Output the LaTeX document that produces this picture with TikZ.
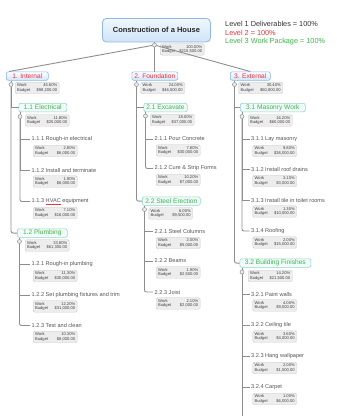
\documentclass[tikz,border=0pt]{standalone}
\usepackage{fontspec}
\setmainfont{Liberation Sans}
\definecolor{linegray}{HTML}{8E8E8E}
\definecolor{lvonefill}{HTML}{CFE4F8}
\definecolor{lvoneborder}{HTML}{8DB8E8}
\definecolor{lvred}{HTML}{E8323C}
\definecolor{lvgreen}{HTML}{3DB54A}
\definecolor{lvtwoborder}{HTML}{8ED8D0}
\definecolor{lvtwofill}{HTML}{F2FBF9}
\definecolor{infofill}{HTML}{EDEDED}
\definecolor{infoborder}{HTML}{CCCCCC}
\definecolor{txtgray}{HTML}{555555}
\definecolor{legblack}{HTML}{333333}
\newcommand{\wb}[2]{\hbox to 40pt{Work\hfil #1}\\\hbox to 40pt{Budget\hfil #2}}
\newcommand{\wbsitem}[6]{%
  \node[itemtxt] (#1) at (#2,#3) {#4};
  \node[info] (#1i) at ([xshift=3pt,yshift=-5.5pt]#1.west) {\wb{#5}{#6}};}
\begin{document}
\begin{tikzpicture}[x=1pt,y=-1pt,
  titlebox/.style={draw=lvoneborder, line width=0.8pt, rounded corners=4pt,
    top color=white!70!lvonefill, bottom color=lvonefill,
    minimum width=108pt, minimum height=23.5pt, inner sep=0pt,
    font=\fontsize{7.5}{8}\selectfont\bfseries, text=black!85, anchor=north west},
  lvone/.style={draw=lvoneborder, line width=0.6pt, rounded corners=2pt,
    top color=white, bottom color=lvonefill, text=lvred,
    font=\fontsize{6.6}{7}\selectfont, minimum height=8.5pt, inner sep=0pt,
    anchor=north west},
  lvtwo/.style={draw=lvtwoborder, line width=0.6pt, rounded corners=2pt,
    fill=lvtwofill, text=lvgreen,
    font=\fontsize{6.6}{7}\selectfont, minimum height=8.5pt, inner sep=0pt,
    anchor=north west},
  itemtxt/.style={font=\fontsize{5.6}{6}\selectfont, text=txtgray,
    inner xsep=1.5pt, inner ysep=0pt, anchor=west},
  info/.style={draw=infoborder, fill=infofill, rounded corners=1.5pt,
    line width=0.4pt, minimum height=11.5pt,
    inner xsep=2pt, inner ysep=0.8pt, font=\fontsize{4.1}{4.7}\selectfont,
    align=left, anchor=north west, text=black!75},
  dot/.style={circle, draw=linegray, fill=lvonefill!60!white, line width=0.5pt,
    minimum size=4pt, inner sep=0pt},
  conn/.style={draw=linegray, line width=0.9pt},
  legend/.style={font=\fontsize{7.3}{8}\selectfont, anchor=west, inner sep=0pt}]
\useasboundingbox[fill=white] (0,0) rectangle (337,416);

% root
\node[titlebox] (root) at (102,18) {Construction of a House};
\node[dot] (rootdot) at (154.5,45) {};
\node[info] (rooti) at (160,43.5) {\wb{100.00\%}{\$215,500.00}};
\node[legend, text=legblack] (leg1) at (225,23.5) {Level 1 Deliverables = 100\%};
\node[legend, text=lvred] (leg2) at (225,32.5) {Level 2 = 100\%};
\node[legend, text=lvgreen] (leg3) at (225,41.5) {Level 3 Work Package = 100\%};

% level 1
\node[lvone, minimum width=42pt] (int) at (6,71.5) {1. Internal};
\node[lvone, minimum width=46pt] (fnd) at (131.5,71.5) {2. Foundation};
\node[lvone, minimum width=40pt] (ext) at (230,71.5) {3. External};
\node[dot] (intdot) at (11,84.5) {};
\node[dot] (fnddot) at (136.5,84.5) {};
\node[dot] (extdot) at (234.5,84.5) {};
\node[info] (inti) at (15,82) {\wb{45.60\%}{\$98,200.00}};
\node[info] (fndi) at (140.5,82) {\wb{24.00\%}{\$46,500.00}};
\node[info] (exti) at (238.5,82) {\wb{30.40\%}{\$60,800.00}};

% level 2
\node[lvtwo, minimum width=48pt] (elec) at (18.5,103) {1.1 Electrical};
\node[lvtwo, minimum width=50pt] (plmb) at (17,228.5) {1.2 Plumbing};
\node[lvtwo, minimum width=43.5pt] (exc) at (143.5,103) {2.1 Excavate};
\node[lvtwo, minimum width=58pt] (stl) at (142,196.5) {2.2 Steel Erection};
\node[lvtwo, minimum width=65pt] (mas) at (240,103) {3.1 Masonry Work};
\node[lvtwo, minimum width=71pt] (bld) at (239.5,258.5) {3.2 Building Finishes};
\node[dot] (elecdot) at (20,116.5) {};
\node[dot] (plmbdot) at (19.5,241.5) {};
\node[dot] (excdot) at (145.5,116) {};
\node[dot] (stldot) at (144.5,209.5) {};
\node[dot] (masdot) at (242,116.5) {};
\node[dot] (blddot) at (242,272) {};
\node[info] (eleci) at (25,114.5) {\wb{11.80\%}{\$25,000.00}};
\node[info] (plmbi) at (25,239.5) {\wb{33.80\%}{\$61,300.00}};
\node[info] (exci) at (150,114) {\wb{18.00\%}{\$37,000.00}};
\node[info] (stli) at (148.5,207.5) {\wb{6.00\%}{\$9,500.00}};
\node[info] (masi) at (248,114.5) {\wb{16.20\%}{\$60,000.00}};
\node[info] (bldi) at (248,270) {\wb{14.20\%}{\$21,500.00}};

% level 3
\wbsitem{e1}{30}{139.5}{1.1.1 Rough-in electrical}{2.80\%}{\$6,000.00}
\wbsitem{e2}{30}{170}{1.1.2 Install and terminate}{1.90\%}{\$6,000.00}
\wbsitem{e3}{30}{201.5}{1.1.3 {\color{lvred}\underline{\textcolor{txtgray}{HVAC}}} equipment}{7.10\%}{\$16,000.00}
\wbsitem{p1}{30}{264.5}{1.2.1 Rough-in plumbing}{11.30\%}{\$30,000.00}
\wbsitem{p2}{30}{295}{1.2.2 Set plumbing fixtures and trim}{12.20\%}{\$31,000.00}
\wbsitem{p3}{30}{325.5}{1.2.3 Test and clean}{10.30\%}{\$8,000.00}
\wbsitem{x1}{153}{139}{2.1.1 Pour Concrete}{7.80\%}{\$30,000.00}
\wbsitem{x2}{153}{168.5}{2.1.2 Cure \& Strip Forms}{10.20\%}{\$7,000.00}
\wbsitem{s1}{153}{231.5}{2.2.1 Steel Columns}{2.00\%}{\$5,000.00}
\wbsitem{s2}{153}{261}{2.2.2 Beams}{1.90\%}{\$2,500.00}
\wbsitem{s3}{153}{292}{2.2.3 Joist}{2.10\%}{\$2,000.00}
\wbsitem{m1}{249.5}{139.5}{3.1.1 Lay masonry}{9.80\%}{\$36,000.00}
\wbsitem{m2}{249.5}{169.5}{3.1.2 Install roof drains}{3.10\%}{\$3,000.00}
\wbsitem{m3}{249.5}{200}{3.1.3 Install tile in toilet rooms}{1.30\%}{\$10,000.00}
\wbsitem{m4}{249.5}{231}{3.1.4 Roofing}{2.00\%}{\$15,000.00}
\wbsitem{b1}{249.5}{294}{3.2.1 Paint walls}{4.00\%}{\$9,000.00}
\wbsitem{b2}{249.5}{325}{3.2.2 Ceiling tile}{3.60\%}{\$4,000.00}
\wbsitem{b3}{249.5}{356.5}{3.2.3 Hang wallpaper}{2.00\%}{\$1,500.00}
\wbsitem{b4}{249.5}{387.5}{3.2.4 Carpet}{1.00\%}{\$6,000.00}
\coordinate (bldend) at (242,416);

% connectors
\draw[conn] (root.south -| rootdot) -- (rootdot);
\draw[conn] (rootdot) -- ([xshift=3pt]int.north west);
\draw[conn] (rootdot) -- (fnd.north -| rootdot);
\draw[conn] (rootdot) -- (ext.north);

\foreach \p/\c/\l in {int/elec/plmb, fnd/exc/stl, ext/mas/bld}{
  \draw[conn] (\p.south -| \p dot) -- (\p dot);
  \draw[conn] (\p dot) |- (\c.west);
  \draw[conn, rounded corners=2pt] (\p dot) |- (\l.west);
}
\foreach \p in {elec, plmb, exc, stl, mas, bld}{
  \draw[conn] (\p.south -| \p dot) -- (\p dot);
}
\draw[conn] (elecdot) |- (e1.west);
\draw[conn] (elecdot) |- (e2.west);
\draw[conn, rounded corners=2pt] (elecdot) |- (e3.west);
\draw[conn] (plmbdot) |- (p1.west);
\draw[conn] (plmbdot) |- (p2.west);
\draw[conn, rounded corners=2pt] (plmbdot) |- (p3.west);
\draw[conn] (excdot) |- (x1.west);
\draw[conn, rounded corners=2pt] (excdot) |- (x2.west);
\draw[conn] (stldot) |- (s1.west);
\draw[conn] (stldot) |- (s2.west);
\draw[conn, rounded corners=2pt] (stldot) |- (s3.west);
\draw[conn] (masdot) |- (m1.west);
\draw[conn] (masdot) |- (m2.west);
\draw[conn] (masdot) |- (m3.west);
\draw[conn, rounded corners=2pt] (masdot) |- (m4.west);
\draw[conn] (blddot) |- (b1.west);
\draw[conn] (blddot) |- (b2.west);
\draw[conn] (blddot) |- (b3.west);
\draw[conn] (blddot) |- (b4.west);
\draw[conn] (blddot) -- (bldend);
\end{tikzpicture}
\end{document}
